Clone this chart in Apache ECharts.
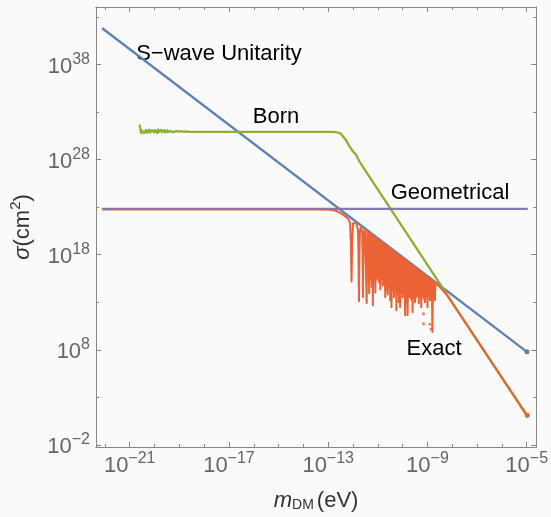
<!DOCTYPE html>
<html>
<head>
<meta charset="utf-8">
<script src="https://cdn.jsdelivr.net/npm/echarts@6/dist/echarts.min.js"></script>
<style>
  html, body { margin: 0; padding: 0; background: #fafafa; }
  #main { width: 551px; height: 517px; }
</style>
</head>
<body>
<div id="main"></div>
<script>
'use strict';
// all values are log10: x = log10(m_DM / eV), y = log10(sigma / cm^2)
var massTicks = [-21, -17, -13, -9, -5];
var massMinor = [-22, -20, -19, -18, -16, -15, -14, -12, -11, -10, -8, -7, -6];
var sigmaTicks = [-2, 8, 18, 28, 38];
var sigmaMinor = [3, 13, 23, 33, 43];

var unitarity = [[-22.08, 41.75], [-4.99, 7.79]];
var geometrical = [[-22.08, 22.83], [-4.99, 22.83]];

var born = [
  [-20.6, 31.6], [-20.57, 31.2], [-20.54, 30.8], [-20.51, 31.05], [-20.48, 30.85], [-20.45, 31.15],
  [-20.42, 30.8], [-20.39, 31.0], [-20.36, 30.9], [-20.33, 31.12], [-20.3, 30.82], [-20.27, 31.0],
  [-20.24, 30.95], [-20.21, 31.15], [-20.18, 30.85], [-20.15, 31.05], [-20.12, 30.8], [-20.09, 31.1],
  [-20.06, 30.9], [-20.03, 31.0], [-20.0, 30.85], [-19.97, 31.1], [-19.94, 30.95], [-19.91, 31.05],
  [-19.88, 30.8], [-19.85, 31.15], [-19.82, 30.9], [-19.79, 31.0], [-19.76, 30.85], [-19.73, 31.12],
  [-19.7, 30.88], [-19.67, 31.05], [-19.64, 30.95], [-19.61, 31.1], [-19.58, 30.85], [-19.55, 31.0],
  [-19.52, 30.9], [-19.49, 31.08], [-19.46, 30.86], [-19.43, 31.0], [-19.4, 30.92], [-19.37, 31.05],
  [-19.34, 30.9], [-19.31, 31.02], [-19.28, 30.88], [-19.25, 31.0], [-19.2, 30.93], [-19.1, 31.0],
  [-19.0, 30.93], [-18.9, 30.98], [-18.8, 30.92], [-18.7, 30.96], [-18.6, 30.92],
  [-18.4, 30.91], [-13.0, 30.91], [-12.71, 30.9], [-12.5, 30.75], [-12.31, 30.15],
  [-12.12, 29.32], [-12.0, 28.85], [-11.88, 28.5], [-11.72, 27.7], [-4.98, 1.0]
];

var exact = [
  [-22.08, 22.76], [-13.3, 22.76], [-12.9, 22.72], [-12.7, 22.62], [-12.55, 22.45],
  [-12.4, 22.22], [-12.28, 21.98], [-12.18, 21.76],
  [-12.12, 21.3], [-12.085, 19.2], [-12.06, 15.19], [-12.035, 19.2], [-12.0, 21.3], [-11.94, 21.5],
  [-11.86, 21.3], [-11.8, 20.6], [-11.775, 17.5], [-11.76, 13.1], [-11.745, 17.5], [-11.72, 20.5], [-11.67, 21.0],
  [-11.63, 20.3], [-11.61, 17.0], [-11.6, 13.52], [-11.59, 17.0], [-11.56, 20.4], [-11.52, 20.66],
  [-11.475, 20.58], [-11.45, 12.9], [-11.425, 20.48], [-11.40, 15.9], [-11.375, 20.38], [-11.35, 13.94],
  [-11.325, 20.28], [-11.30, 15.5], [-11.275, 20.18], [-11.25, 14.6], [-11.225, 20.08], [-11.20, 12.69],
  [-11.175, 19.98], [-11.15, 15.2], [-11.125, 19.88], [-11.10, 14.04], [-11.075, 19.78], [-11.05, 15.4],
  [-11.025, 19.69], [-11.00, 15.6], [-10.975, 19.59], [-10.95, 15.08], [-10.925, 19.49], [-10.90, 14.35],
  [-10.875, 19.39], [-10.85, 15.4], [-10.825, 19.29], [-10.80, 14.77], [-10.775, 19.19], [-10.75, 14.9],
  [-10.725, 19.09], [-10.70, 13.52], [-10.675, 18.99], [-10.65, 14.3], [-10.625, 18.89], [-10.60, 13.83],
  [-10.575, 18.79], [-10.55, 14.6], [-10.525, 18.69], [-10.50, 13.21], [-10.475, 18.59], [-10.45, 12.48],
  [-10.425, 18.49], [-10.40, 14.3], [-10.375, 18.39], [-10.35, 13.52], [-10.325, 18.29], [-10.30, 14.2],
  [-10.275, 18.19], [-10.25, 12.17], [-10.225, 18.10], [-10.20, 14.0], [-10.175, 18.00], [-10.15, 13.0],
  [-10.125, 17.90], [-10.10, 12.48], [-10.075, 17.80], [-10.05, 14.0], [-10.025, 17.70], [-10.00, 13.52],
  [-9.975, 17.60], [-9.95, 13.9], [-9.925, 17.50], [-9.90, 11.65], [-9.875, 17.40], [-9.85, 13.0],
  [-9.825, 17.30], [-9.80, 11.65], [-9.775, 17.20], [-9.75, 13.6], [-9.725, 17.10], [-9.70, 13.52],
  [-9.675, 17.00], [-9.65, 13.3], [-9.625, 16.90], [-9.60, 11.96], [-9.575, 16.80], [-9.55, 13.5],
  [-9.525, 16.70], [-9.50, 13.0], [-9.475, 16.60], [-9.45, 13.52], [-9.425, 16.51], [-9.40, 13.83],
  [-9.375, 16.41], [-9.35, 12.9], [-9.325, 16.31], [-9.30, 13.7], [-9.275, 16.21], [-9.25, 12.48],
  [-9.225, 16.11], [-9.20, 13.8], [-9.175, 16.01], [-9.15, 13.4], [-9.125, 15.91], [-9.10, 13.0],
  [-9.075, 15.81], [-9.05, 13.6], [-9.025, 15.71], [-9.00, 12.48], [-8.975, 15.61], [-8.95, 14.0],
  [-8.925, 15.51], [-8.90, 13.21], [-8.875, 15.41], [-8.85, 14.1], [-8.825, 15.31], [-8.80, 9.88],
  [-8.775, 15.21], [-8.75, 14.2], [-8.725, 15.11], [-8.70, 13.21], [-8.675, 15.01],
  [-8.6, 14.85], [-8.5, 14.6], [-8.4, 14.3], [-8.3, 14.0], [-8.2, 13.7], [-4.98, 1.12]
];
// stray sampled points below the resonances
var exactDots = [[-9.43, 13.9], [-9.16, 11.8], [-9.16, 10.75], [-8.9, 10.7], [-8.86, 10.2]];

(function() {
    var myChart = echarts.init(document.getElementById('main'));

    var font = '"Liberation Sans", Arial, sans-serif';
    var frameColor = '#888888';
    var labelColor = '#666666';
    var X_MIN = -22.358, X_MAX = -4.62;
    var Y_MIN = -2.21, Y_MAX = 44.04;

    function pow10(v) {
        var e = v < 0 ? '\u2212' + (-v) : String(v);
        return '{b|10}{s|' + e + '}';
    }
    var tickRich = {
        b: { fontSize: 22, lineHeight: 26, verticalAlign: 'bottom', color: labelColor, fontFamily: font },
        s: { fontSize: 16, lineHeight: 15, verticalAlign: 'top', color: labelColor, fontFamily: font }
    };

    // one axis for major ticks, one for minor ones, on each side of the frame
    function xAx(pos, ticks, len, withLabels) {
        return {
            type: 'value', position: pos, min: X_MIN, max: X_MAX,
            axisLine: { show: true, onZero: false, lineStyle: { color: frameColor, width: 1 } },
            axisTick: { show: true, inside: true, length: len, customValues: ticks,
                        lineStyle: { color: frameColor, width: 1 } },
            axisLabel: withLabels ? { show: true, customValues: ticks, formatter: pow10,
                                      margin: 4, rich: tickRich } : { show: false },
            splitLine: { show: false }
        };
    }
    function yAx(pos, ticks, len, withLabels) {
        return {
            type: 'value', position: pos, min: Y_MIN, max: Y_MAX,
            axisLine: { show: true, onZero: false, lineStyle: { color: frameColor, width: 1 } },
            axisTick: { show: true, inside: true, length: len, customValues: ticks,
                        lineStyle: { color: frameColor, width: 1 } },
            axisLabel: withLabels ? { show: true, customValues: ticks, formatter: pow10,
                                      margin: 6, rich: tickRich } : { show: false },
            splitLine: { show: false }
        };
    }

    var xAxes = [
        xAx('bottom', massTicks, 5, true),
        xAx('bottom', massMinor, 3, false),
        xAx('top', massTicks, 5, false),
        xAx('top', massMinor, 3, false)
    ];
    xAxes[0].name = '{i|m}{d|DM}{n|(eV)}';
    xAxes[0].nameLocation = 'middle';
    xAxes[0].nameGap = 39;
    xAxes[0].nameTextStyle = {
        rich: {
            i: { fontSize: 22, fontStyle: 'italic', lineHeight: 26, verticalAlign: 'bottom', color: '#333', fontFamily: font },
            d: { fontSize: 14, lineHeight: 14, verticalAlign: 'bottom', color: '#333', fontFamily: font, padding: [0, 3, 0, 0] },
            n: { fontSize: 22, lineHeight: 26, verticalAlign: 'bottom', color: '#333', fontFamily: font }
        }
    };

    var yAxes = [
        yAx('left', sigmaTicks, 5, true),
        yAx('left', sigmaMinor, 3, false),
        yAx('right', sigmaTicks, 5, false),
        yAx('right', sigmaMinor, 3, false)
    ];
    yAxes[0].name = '{g|\u03c3}{n|(cm}{p|2}{n|)}';
    yAxes[0].nameLocation = 'middle';
    yAxes[0].nameRotate = 90;
    yAxes[0].nameGap = 62;
    yAxes[0].nameTextStyle = {
        rich: {
            g: { fontSize: 22, fontStyle: 'italic', lineHeight: 26, verticalAlign: 'bottom', color: '#333', fontFamily: font },
            n: { fontSize: 22, lineHeight: 26, verticalAlign: 'bottom', color: '#333', fontFamily: font },
            p: { fontSize: 15, lineHeight: 15, verticalAlign: 'top', color: '#333', fontFamily: font }
        }
    };

    function endDot(pts) {
        var out = pts.slice(0, -1);
        out.push({ value: pts[pts.length - 1], symbol: 'circle', symbolSize: 5 });
        return out;
    }

    function lineSeries(name, pts, color, width) {
        return {
            name: name, type: 'line', data: pts,
            symbol: 'none', showSymbol: true,
            itemStyle: { color: color },
            lineStyle: { color: color, width: width, join: 'round', cap: 'round' },
            silent: true
        };
    }

    function label(text, x, y) {
        return {
            type: 'text', x: x, y: y,
            style: { text: text, fill: '#000', font: '22px ' + font, align: 'center', verticalAlign: 'middle' }
        };
    }

    var option = {
        backgroundColor: '#fafafa',
        animation: false,
        grid: { left: 93, right: 14, top: 7, bottom: 66 },
        xAxis: xAxes,
        yAxis: yAxes,
        series: [
            lineSeries('S-wave Unitarity', endDot(unitarity), '#5e81b5', 2.3),
            lineSeries('Born', born, '#8fb032', 2.3),
            lineSeries('Exact', endDot(exact), '#eb6235', 2),
            {
                name: 'Exact points', type: 'scatter', data: exactDots,
                symbolSize: 3, itemStyle: { color: '#eb6235' }, silent: true
            },
            lineSeries('Geometrical', geometrical, '#8778b3', 2.3)
        ],
        graphic: [
            label('S\u2212wave Unitarity', 219, 54),
            label('Born', 276, 117),
            label('Geometrical', 450, 193),
            label('Exact', 434, 349)
        ]
    };

    myChart.setOption(option);
})();
</script>
</body>
</html>
